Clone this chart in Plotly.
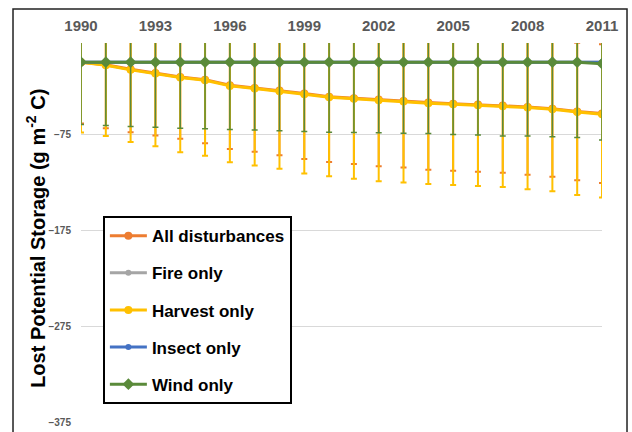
import plotly.graph_objects as go

years = list(range(1990, 2012))
tick_years = [1990, 1993, 1996, 1999, 2002, 2005, 2008, 2011]

all_dist = [0, -2.6, -7.4, -11.3, -15.4, -18.2, -24.1, -26.9, -29.6, -32.7, -35.9,
            -37.6, -39.0, -40.4, -42.1, -43.2, -44.2, -45.2, -46.7, -48.4, -51.4, -53.6]
all_err = [64, 66.2, 65.5, 65.1, 64.5, 66.2, 66.5, 66.5, 67.3, 68.3, 68.0,
           68.4, 69.4, 69.4, 70.1, 70.0, 70.1, 70.1, 70.7, 71.1, 71.6, 72.4]

fire = [0] * 22
insect = [0] * 22

harvest = [0, -3.1, -8.0, -11.9, -16.0, -18.8, -24.7, -27.5, -30.2, -33.3, -36.5,
           -38.2, -39.6, -41.0, -42.7, -43.8, -44.8, -45.8, -47.3, -49.0, -52.0, -54.2]
harvest_err = [73.3, 73.9, 75.3, 75.6, 77.8, 78.8, 79.5, 80.2, 80.9, 82.7, 82.3,
               83.4, 84.4, 84.4, 84.3, 84.2, 84.2, 84.2, 85.0, 85.4, 86.5, 86.8]

wind = [0] * 21 + [-1.5]
wind_err = [65, 66, 67, 67.7, 68.8, 69.5, 70.2, 70.8, 71.5, 72.3, 73.0,
            73.3, 73.6, 74.0, 74.4, 75.4, 76.0, 76.8, 77.0, 77.8, 78.5, 79.5]

font = "Liberation Sans, Arial, sans-serif"

fig = go.Figure()


def add_series(name, y, color, err=None, symbol="circle", size=8, err_width=2, lg="a"):
    kw = {}
    if err is not None:
        kw["error_y"] = dict(type="data", array=err, symmetric=True,
                             color=color, thickness=err_width, width=3)
    fig.add_trace(go.Scatter(
        x=years, y=y, name=name, mode="lines+markers",
        line=dict(color=color, width=3),
        marker=dict(color=color, size=size, symbol=symbol),
        legendgroup=lg, **kw,
    ))


add_series("All disturbances", all_dist, "#ED7D31", all_err, lg="a")
add_series("Fire only", fire, "#A5A5A5", size=6, lg="b")
add_series("Harvest only", harvest, "#FFC000", harvest_err, lg="c")
add_series("Insect only", insect, "#4472C4", size=6, lg="d")
add_series("Wind only", wind, "#5A8A3A", wind_err, symbol="diamond", size=9,
           err_width=1.5, lg="e")

fig.update_layout(
    width=632, height=432,
    margin=dict(l=81, r=30, t=43, b=10),
    paper_bgcolor="white", plot_bgcolor="white",
    showlegend=True,
    legend=dict(
        x=0.042, y=0.543, xanchor="left", yanchor="top",
        bgcolor="white", bordercolor="black", borderwidth=2,
        font=dict(family=font, size=17, color="black", weight="bold"),
        tracegroupgap=12, itemwidth=37,
    ),
    shapes=[dict(type="rect", xref="paper", yref="paper",
                 x0=-0.1305, x1=1.048, y0=-0.1, y1=1.0897,
                 line=dict(color="#222222", width=1.5), layer="below")],
    annotations=[dict(
        text="Lost Potential Storage (g m<sup>-2</sup> C)",
        xref="paper", yref="paper", x=-0.087, y=0.485,
        xanchor="center", yanchor="middle", textangle=-90, showarrow=False,
        font=dict(family=font, size=20, color="black", weight="bold"),
    )],
)

fig.update_xaxes(
    range=[1990, 2011], side="top", tickvals=tick_years,
    showgrid=False, zeroline=False, showline=False, ticks="",
    ticklabelstandoff=8, automargin=False,
    tickfont=dict(family=font, size=15, color="#595959", weight="bold"),
)

fig.update_yaxes(
    range=[-375, 20], tick0=-375, dtick=100,
    showgrid=True, gridcolor="#D9D9D9", gridwidth=1,
    zeroline=False, showline=False, ticks="",
    ticklabelstandoff=9, automargin=False,
    tickfont=dict(family=font, size=10, color="#595959", weight="bold"),
)

fig.write_html("out.html", config={"displayModeBar": False},
               post_script="document.body.style.margin='0';")
